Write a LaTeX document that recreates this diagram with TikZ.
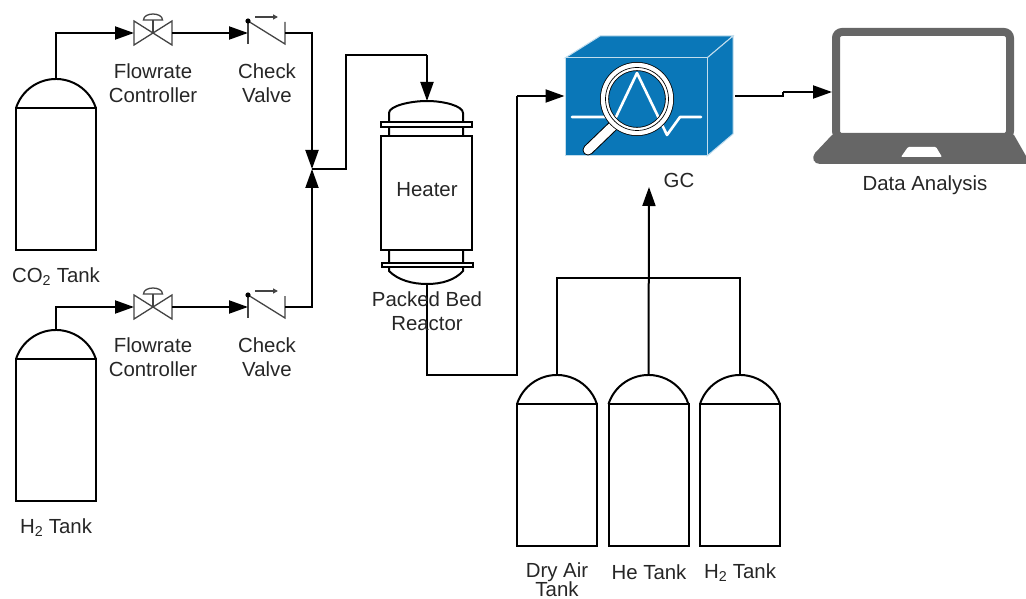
\documentclass[tikz,border=0pt]{standalone}
\usepackage{xcolor}
\usepackage{fontspec}
\setmainfont{Liberation Sans}
\usetikzlibrary{arrows.meta, positioning}
\definecolor{gcblue}{HTML}{0A77B8}
\definecolor{lapgray}{HTML}{666666}
\definecolor{valvegray}{HTML}{444444}

\begin{document}
\begin{tikzpicture}[
    x=1pt, y=-1pt,
    txt/.style={font=\fontsize{20.4}{24}\selectfont, align=center, inner sep=0pt, text=black!85},
    flow/.style={-{Triangle[length=19pt,width=13pt]}, line width=2pt},
    pipe/.style={line width=2pt},
    body/.style={draw, line width=2pt, fill=white, outer sep=0pt, inner sep=0pt},
    thin part/.style={draw=valvegray, line width=1.3pt},
    tank/.pic={
        \node[body, minimum width=80pt, minimum height=142pt, anchor=north] (-body) at (0,29) {};
        \draw[line width=2pt] (-body.north west) arc[start angle=162, end angle=18, radius=42pt];
        \coordinate (-top) at (0,0);
    },
    flowvalve/.pic={
        \draw[thin part] (-19,-12) -- (19,12) -- (19,-12) -- (-19,12) -- cycle;
        \draw[thin part] (0,0) -- (0,-13);
        \draw[thin part] (-9.5,-13) .. controls (-9.5,-21) and (9.5,-21) .. (9.5,-13) -- cycle;
        \coordinate (-in) at (-19,0);
        \coordinate (-out) at (19,0);
    },
    checkvalve/.pic={
        \draw[thin part] (0,-14) -- (0,11);
        \draw[thin part] (0,-12) -- (37,11) -- (37,-11);
        \fill[black] (0,-12) circle (2.6);
        \draw[thin part, -{Triangle[length=5pt,width=5pt]}] (7,-16) -- (30,-16);
        \coordinate (-in) at (0,0);
        \coordinate (-out) at (37,0);
    },
]
\useasboundingbox (0,0) rectangle (1026,599);

%% Connections first, the parts sit on top
\coordinate (join) at (312,169);
\coordinate (up1) at (346,169);
\coordinate (up2) at (346,55);
\coordinate (in1) at (427,55);
\coordinate (reacttop) at (427,101);
\coordinate (reactbot) at (427,284);
\coordinate (out1) at (427,375);
\coordinate (out2) at (517,375);
\coordinate (out3) at (517,96);
\coordinate (gcout) at (735,96);
\coordinate (jog1) at (783,96);
\coordinate (jog2) at (783,92);
\coordinate (hubleft) at (557,278);
\coordinate (hubright) at (740,278);
\coordinate (gcin) at (649,187);

%% Tanks
\pic (co2)   at (56,79)   {tank};
\pic (h2)    at (56,330)  {tank};
\pic (air)   at (557,375) {tank};
\pic (he)    at (648.5,375) {tank};
\pic (h2gc)  at (740,375) {tank};

%% Valves
\pic (fc1) at (153,33)  {flowvalve};
\pic (fc2) at (153,307) {flowvalve};
\pic (cv1) at (248,33)  {checkvalve};
\pic (cv2) at (248,307) {checkvalve};

%% Reactor
\draw[pipe] (389,136) -- (389,113) .. controls (389,106) and (410,101) .. (reacttop)
            .. controls (444,101) and (463,106) .. (463,113) -- (463,136);
\draw[pipe] (389,250) -- (389,271) .. controls (398,280) and (412,284) .. (reactbot)
            .. controls (442,284) and (455,280) .. (463,271) -- (463,250);
\node[body, minimum width=91pt, minimum height=5pt, anchor=north] (flange1) at (426.5,122) {};
\node[body, minimum width=91pt, minimum height=4pt, anchor=north] (flange2) at (427,262.5) {};
\node[body, minimum width=91pt, minimum height=114pt] (heater) at (426.5,193) {};
\node[txt] (heatertxt) at (427,190) {Heater};

%% GC
\fill[gcblue, draw=white!75!gcblue, line width=1pt] (565,58) -- (600,36) -- (733,36) -- (707,58) -- cycle;
\fill[gcblue, draw=white!75!gcblue, line width=1pt] (707,58) -- (733,36) -- (733,134) -- (707,156) -- cycle;
\node[fill=gcblue, draw=white!75!gcblue, line width=1pt, minimum width=142pt, minimum height=98pt, inner sep=0pt] (gc) at (636,107) {};
\draw[white, line width=2.6pt, line join=round, line cap=round]
    (572,117) -- (616,117) -- (637,73) -- (667,135) -- (680,117) -- (701,117);
\draw[black, line width=11pt, line cap=round] (614,125) -- (588,150);
\draw[white, line width=9pt, line cap=round] (614,125) -- (588,150);
\draw[black, line width=9pt] (637,99) circle (32.5);
\draw[white, line width=7.4pt] (637,99) circle (32.5);
\draw[black, line width=.7pt] (637,99) circle (31.5);

%% Laptop
\fill[lapgray] (832,135) -- (815,153) .. controls (811,158) and (814,164) .. (820,164)
    -- (1026,164) -- (1026,156) -- (1014,135) -- cycle;
\node[draw=lapgray, line width=8pt, rounded corners=6pt, minimum width=174pt, minimum height=105pt, inner sep=0pt] (screen) at (923,84.5) {};
\fill[white, rounded corners=1pt] (908,147) -- (936,147) -- (942,157) -- (901,157) -- cycle;

%% Lines
\draw[flow] (co2-top) |- (fc1-in);
\draw[flow] (fc1-out) -- (cv1-in);
\draw[flow] (h2-top) |- (fc2-in);
\draw[flow] (fc2-out) -- (cv2-in);
\draw[flow] (cv1-out) -| (join);
\draw[flow] (cv2-out) -| (join);
\draw[pipe] (join) -- (up1) -- (up2) -- (in1);
\draw[flow] (in1) -- (reacttop);
\draw[pipe] (reactbot) -- (out1) -- (out2) -- (out3);
\draw[flow] (out3) -- (out3 -| gc.west);
\draw[pipe] (gcout) -- (jog1) -- (jog2);
\draw[flow] (jog2) -- (jog2 -| screen.west);
\draw[pipe] (air-top) -- (hubleft) -- (hubright) -- (h2gc-top);
\draw[flow] (he-top) -- (gcin);

%% Labels
\node[txt] (fc1txt) at (153,83.5)  {Flowrate\\Controller};
\node[txt] (cv1txt) at (267,83.5)  {Check\\Valve};
\node[txt] (fc2txt) at (153,357.5) {Flowrate\\Controller};
\node[txt] (cv2txt) at (267,357.5) {Check\\Valve};
\node[txt] (co2txt) at (56,277)    {CO\textsubscript{2} Tank};
\node[txt] (h2txt)  at (56,528)    {H\textsubscript{2} Tank};
\node[txt] (reacttxt) at (427,311) {Packed Bed\\Reactor};
\node[txt] (gctxt)  at (679,180)   {GC};
\node[txt] (datatxt) at (925,185)  {Data Analysis};
\node[txt] (airtxt) at (557,579.5) {Dry Air\\[-5pt]Tank};
\node[txt] (hetxt)  at (649,572)   {He Tank};
\node[txt] (h2gctxt) at (740,573)  {H\textsubscript{2} Tank};
\end{tikzpicture}
\end{document}
